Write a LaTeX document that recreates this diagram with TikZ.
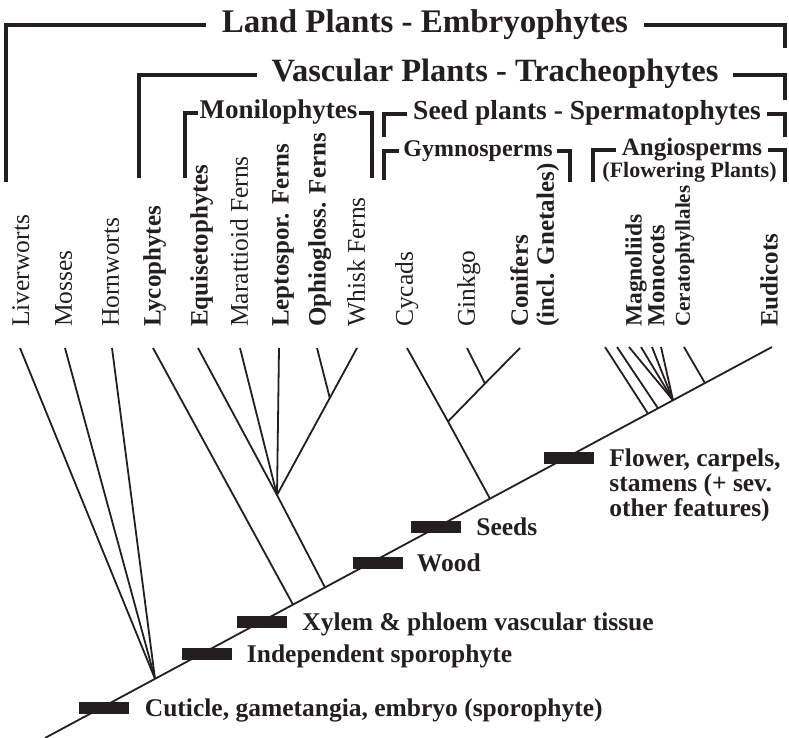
\documentclass[tikz,border=0pt]{standalone}
\usepackage{fontspec}
\setmainfont{Liberation Serif}
\usetikzlibrary{positioning}
\definecolor{ink}{RGB}{35,31,32}

\begin{document}
\begin{tikzpicture}[x=1pt, y=-1pt,
    branch/.style={draw=ink, line width=1.8pt},
    brk/.style={draw=ink, line width=4.5pt},
    synapo/.style={fill=ink, minimum width=50pt, minimum height=12pt, inner sep=0pt},
    trait/.style={text=ink, inner sep=0pt, text height=17pt, text depth=0pt,
      font=\bfseries\fontsize{25.5}{25}\selectfont},
    taxon/.style={text=ink, rotate=90, anchor=north west, inner sep=0pt,
      font=\fontsize{25.5}{26}\selectfont},
    taxonb/.style={taxon, font=\bfseries\fontsize{25}{26}\selectfont},
    clade/.style={text=ink, inner ysep=0pt, text depth=0pt}]
  \useasboundingbox (0,0) rectangle (789,738);

  % clade names and their brackets
  \node[clade, text height=15pt, inner xsep=16pt, font=\bfseries\fontsize{33}{33}\selectfont] (land) at (425,25) {Land Plants - Embryophytes};
  \node[clade, text height=14pt, inner xsep=14pt, font=\bfseries\fontsize{32.5}{32}\selectfont] (vasc) at (495,75) {Vascular Plants - Tracheophytes};
  \node[clade, text height=12pt, inner xsep=2pt, font=\bfseries\fontsize{27}{27}\selectfont] (moni) at (278.5,113) {Monilophytes};
  \node[clade, text height=12pt, inner xsep=6pt, font=\bfseries\fontsize{27.5}{27}\selectfont] (seed) at (587,114) {Seed plants - Spermatophytes};
  \node[clade, text height=11pt, inner xsep=4pt, font=\bfseries\fontsize{24}{24}\selectfont] (gymn) at (478,151) {Gymnosperms};
  \node[clade, text height=12pt, inner xsep=6pt, font=\bfseries\fontsize{25}{25}\selectfont] (angio) at (692,150) {Angiosperms};
  \node[text=ink, inner sep=0pt, anchor=base, font=\bfseries\fontsize{22}{22}\selectfont] (angio-sub) at (689.5,178) {(Flowering Plants)};

  \coordinate (land-l) at (6,182);
  \coordinate (land-r) at (785,48);
  \coordinate (vasc-l) at (139,178);
  \coordinate (vasc-r) at (785,100);
  \coordinate (moni-l) at (185,178);
  \coordinate (moni-r) at (372,178);
  \coordinate (seed-l) at (384,137);
  \coordinate (seed-r) at (785,137);
  \coordinate (gymn-l) at (384,180);
  \coordinate (gymn-r) at (570,182);
  \coordinate (angio-l) at (593,182);
  \coordinate (angio-r) at (785,182);
  \foreach \c in {land,vasc,moni,seed,gymn,angio} {
    \draw[brk] (\c.west) -| (\c-l);
    \draw[brk] (\c.east) -| (\c-r);
  }

  % taxa
  \node[taxon] (liv) at (12,327) {Liverworts};
  \node[taxon] (mos) at (55,327) {Mosses};
  \node[taxon] (hor) at (102,327) {Hornworts};
  \node[taxonb] (lyc) at (143,327) {Lycophytes};
  \node[taxonb] (equ) at (190,327) {Equisetophytes};
  \node[taxon] (mar) at (230,327) {Marattioid Ferns};
  \node[taxonb] (lep) at (272,327) {Leptospor. Ferns};
  \node[taxonb] (oph) at (308,327) {Ophiogloss. Ferns};
  \node[taxon] (whi) at (347,327) {Whisk Ferns};
  \node[taxon] (cyc) at (395,327) {Cycads};
  \node[taxon] (gin) at (457,327) {Ginkgo};
  \node[taxonb, align=left] (con) at (510,327) {Conifers\\(incl. Gnetales)};
  \node[taxonb, font=\bfseries\fontsize{23.5}{24}\selectfont] (mag) at (625,327) {Magnoliids};
  \node[taxonb, font=\bfseries\fontsize{24.5}{24}\selectfont] (mon) at (648,327) {Monocots};
  \node[taxonb, font=\bfseries\fontsize{21}{22}\selectfont] (cer) at (675,327) {Ceratophyllales};
  \node[taxonb] (eud) at (760,327) {Eudicots};

  % tips of the branches
  \coordinate (t-liv) at (20,348);
  \coordinate (t-mos) at (65,348);
  \coordinate (t-hor) at (112,348);
  \coordinate (t-lyc) at (153,348);
  \coordinate (t-equ) at (198,348);
  \coordinate (t-mar) at (240,348);
  \coordinate (t-lep) at (279,348);
  \coordinate (t-oph) at (317,348);
  \coordinate (t-whi) at (357,348);
  \coordinate (t-cyc) at (407,348);
  \coordinate (t-gin) at (467,348);
  \coordinate (t-con) at (520,348);
  \coordinate (t-a1) at (605,347);
  \coordinate (t-a2) at (617,347);
  \coordinate (t-a3) at (629,347);
  \coordinate (t-a4) at (641,347);
  \coordinate (t-a5) at (652,347);
  \coordinate (t-a6) at (661,347);
  \coordinate (t-cer) at (684,347);
  \coordinate (t-eud) at (772,347);

  % branching points
  \coordinate (root) at (45,738);
  \coordinate (n-land) at (155,678.8);
  \coordinate (n-vasc) at (293,604.6);
  \coordinate (n-euph) at (325,587.4);
  \coordinate (n-moni) at (277,495);
  \coordinate (n-oph) at (329.8,398);
  \coordinate (n-seed) at (490,498.7);
  \coordinate (n-gymn) at (448,421.5);
  \coordinate (n-conf) at (485,383.5);
  \coordinate (n-ang1) at (648,413.7);
  \coordinate (n-ang2) at (658,408.3);
  \coordinate (n-ang3) at (667,403.5);
  \coordinate (n-ang4) at (673,400.2);
  \coordinate (n-cer) at (705,383.1);

  \draw[branch] (root) -- (t-eud);
  \foreach \t in {liv,mos,hor} \draw[branch] (t-\t) -- (n-land);
  \draw[branch] (t-lyc) -- (n-vasc);
  \draw[branch] (t-equ) -- (n-moni) -- (n-euph);
  \foreach \t in {mar,lep,whi} \draw[branch] (t-\t) -- (n-moni);
  \draw[branch] (t-oph) -- (n-oph);
  \draw[branch] (t-cyc) -- (n-gymn) -- (n-seed);
  \draw[branch] (t-con) -- (n-conf) -- (n-gymn);
  \draw[branch] (t-gin) -- (n-conf);
  \draw[branch] (t-a1) -- (n-ang1);
  \draw[branch] (t-a2) -- (n-ang2);
  \foreach \t in {a3,a4,a5,a6} \draw[branch] (t-\t) -- (n-ang4);
  \draw[branch] (t-cer) -- (n-cer);

  % synapomorphies
  \node[synapo] (b-cut) at (103.5,708) {};
  \node[synapo] (b-ind) at (206.5,654) {};
  \node[synapo] (b-xyl) at (262,622) {};
  \node[synapo] (b-woo) at (377.5,563) {};
  \node[synapo] (b-see) at (436,527) {};
  \node[synapo] (b-flo) at (569,457.5) {};

  \node[trait, right=16pt of b-cut] (l-cut) {Cuticle, gametangia, embryo (sporophyte)};
  \node[trait, right=15pt of b-ind] (l-ind) {Independent sporophyte};
  \node[trait, right=15pt of b-xyl] (l-xyl) {Xylem \& phloem vascular tissue};
  \node[trait, right=14pt of b-woo] (l-woo) {Wood};
  \node[trait, right=15pt of b-see] (l-see) {Seeds};
  \node[text=ink, inner sep=0pt, align=left, font=\bfseries\fontsize{25.5}{25}\selectfont,
    right=15pt of b-flo, anchor=north west, yshift=9pt] (l-flo) {Flower, carpels,\\stamens (+ sev.\\other features)};
\end{tikzpicture}
\end{document}
